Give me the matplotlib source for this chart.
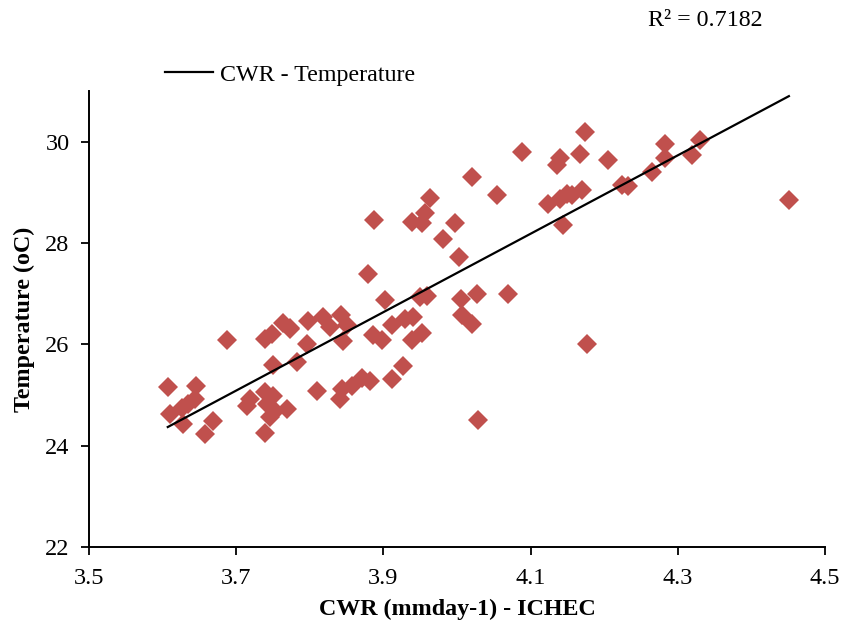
import matplotlib.pyplot as plt
import numpy as np

plt.rcParams['font.family'] = ['Liberation Serif', 'DejaVu Serif']

# CWR (mm/day) - ICHEC vs temperature
cwr = [3.607, 3.688, 3.645, 3.644, 3.626, 3.610, 3.628, 3.668, 3.658, 3.739,
       3.749, 3.764, 3.773, 3.750, 3.719, 3.715, 3.739, 3.750, 3.742, 3.753,
       3.769, 3.746, 3.739, 3.634, 3.773, 3.797, 3.818, 3.827, 3.843, 3.850,
       3.845, 3.796, 3.783, 3.886, 3.898, 3.912, 3.940, 3.939, 3.952, 3.902,
       3.950, 3.810, 3.844, 3.841, 3.857, 3.871, 3.882, 3.912, 3.927,
       3.963, 3.956, 3.939, 3.953, 3.997, 3.981, 4.003, 3.887, 3.879,
       3.959, 3.929, 4.006, 4.027, 4.007, 4.021, 4.088, 4.136, 4.140,
       4.020, 4.054, 4.124, 4.140, 4.149, 4.144, 4.069, 4.174, 4.167,
       4.205, 4.170, 4.156, 4.224, 4.232, 4.265, 4.283, 4.283, 4.319,
       4.330, 4.451, 4.177, 4.029]
temp = [25.15, 26.09, 25.18, 24.92, 24.74, 24.62, 24.43, 24.49, 24.24, 26.11,
        26.21, 26.43, 26.31, 25.60, 24.92, 24.78, 25.05, 24.98, 24.82, 24.68,
        24.72, 24.57, 24.26, 24.82, 26.33, 26.47, 26.53, 26.34, 26.58, 26.39,
        26.07, 26.00, 25.65, 26.19, 26.09, 26.39, 26.53, 26.09, 26.23, 26.87,
        26.94, 25.08, 25.12, 24.92, 25.18, 25.34, 25.28, 25.32, 25.58,
        28.89, 28.59, 28.41, 28.39, 28.39, 28.07, 27.72, 28.45, 27.39,
        26.95, 26.50, 26.89, 26.99, 26.57, 26.40, 29.80, 29.54, 29.67,
        29.31, 28.95, 28.76, 28.87, 28.97, 28.36, 26.99, 30.20, 29.75,
        29.64, 29.04, 28.95, 29.15, 29.12, 29.40, 29.96, 29.67, 29.73,
        30.03, 28.84, 26.01, 24.51]

ticks_x = [3.5, 3.7, 3.9, 4.1, 4.3, 4.5]
ticks_y = [22, 24, 26, 28, 30]

x = np.array(cwr)
y = np.array(temp)
slope, intercept = np.polyfit(x, y, 1)

fig = plt.figure(figsize=(8.43, 6.3), dpi=100)
ax = fig.add_axes([0.1056, 0.1317, 0.8730, 0.7239])

ax.plot(x, y, linestyle='none', marker='D', ms=10, color='#C0504D',
        markeredgewidth=0)
xf = np.array([x.min(), x.max()])
ax.plot(xf, slope * xf + intercept, color='black', lw=1.6,
        label='CWR - Temperature')

ax.set_xlim(3.5, 4.5)
ax.set_ylim(22, 31)
ax.set_xticks(ticks_x)
ax.set_yticks(ticks_y)
ax.set_xticklabels([f'{t:.1f}' for t in ticks_x])
ax.tick_params(labelsize=17.5, width=1.3, length=6, direction='out')
ax.tick_params(axis='x', pad=9)
ax.tick_params(axis='y', pad=8)
for s in ['top', 'right']:
    ax.spines[s].set_visible(False)
for s in ['left', 'bottom']:
    ax.spines[s].set_linewidth(1.4)

ax.set_xlabel('CWR (mmday-1) - ICHEC', fontsize=17.3, fontweight='bold',
              labelpad=7)
ax.set_ylabel('Temperature (oC)', fontsize=17.3, fontweight='bold',
              labelpad=7)

ax.legend(loc='lower left', bbox_to_anchor=(0.08, 0.975), frameon=False,
          fontsize=17.3, handlelength=2.0, handletextpad=0.3, borderpad=0.2)
fig.text(0.769, 0.968, 'R² = 0.7182', fontsize=17.3, va='center')

fig.savefig('out.png', dpi=100)
